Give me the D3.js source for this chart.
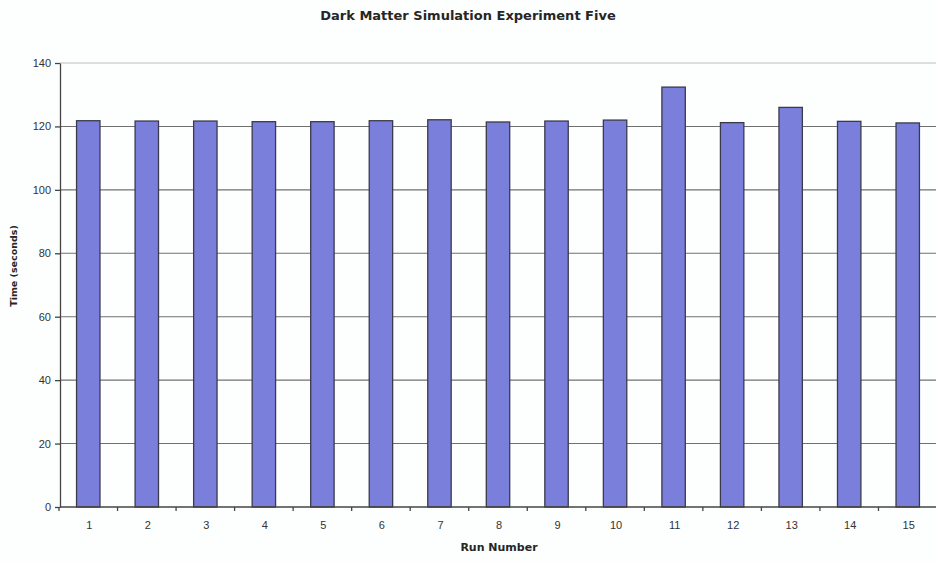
<!DOCTYPE html>
<html>
<head>
<meta charset="utf-8">
<script src="https://cdn.jsdelivr.net/npm/d3@7"></script>
<style>
body { margin: 0; background: #fdfefe; }
svg { display: block; font-family: "Liberation Sans", Arial, sans-serif; }
.grid line { stroke: #707070; stroke-width: 1.1; }
.axis path, .axis line { stroke: #444; stroke-width: 1.3; }
.axis text { fill: #333; font-size: 11px; }
.label { font-family: "DejaVu Sans", sans-serif; font-weight: bold; fill: #262626; }
</style>
</head>
<body>
<div id="plot"></div>
<script>
// run numbers and times
var runs = ["1","2","3","4","5","6","7","8","9","10","11","12","13","14","15"];
var times = [121.8,121.7,121.7,121.5,121.5,121.8,122.1,121.4,121.7,122.0,132.4,121.2,126.0,121.6,121.1];
var yTicks = [0,20,40,60,80,100,120,140];

var width = 936, height = 563;
var margin = {top: 63, right: -2, bottom: 56, left: 60};

var svg = d3.select('#plot')
  .append('svg')
  .attr('width', width)
  .attr('height', height);

var x = d3.scaleBand()
  .domain(runs)
  .range([margin.left, width - margin.right])
  .paddingInner(0.6)
  .paddingOuter(0.3);

var y = d3.scaleLinear()
  .domain([0, 140])
  .range([height - margin.bottom, margin.top]);

// horizontal gridlines
svg.append('g')
  .attr('class', 'grid')
  .selectAll('line')
  .data(yTicks.filter(function(d){ return d > 0; }))
  .enter().append('line')
    .attr('x1', margin.left)
    .attr('x2', width)
    .attr('y1', function(d){ return y(d); })
    .attr('y2', function(d){ return y(d); })
    .style('stroke', function(d){ return d == 140 ? '#bdbdbd' : null; });

// bars
svg.selectAll('.bar')
  .data(times)
  .enter().append('rect')
    .attr('class', 'bar')
    .attr('x', function(d, i){ return x(runs[i]) - 1; })
    .attr('width', x.bandwidth())
    .attr('y', function(d){ return y(d); })
    .attr('height', function(d){ return y(0) - y(d); })
    .style('fill', '#7b7fdc')
    .style('stroke', '#3a3a4a')
    .style('stroke-width', 1.3);

// x axis: ticks sit between categories
var xAxis = d3.axisBottom(x).tickSize(0).tickPadding(14);
var gx = svg.append('g')
  .attr('class', 'x axis')
  .attr('transform', 'translate(0,' + y(0) + ')')
  .call(xAxis);
gx.select('.domain').attr('d', 'M' + margin.left + ',0H' + width);

var step = x.step();
gx.selectAll('.sep')
  .data(runs)
  .enter().append('line')
    .attr('class', 'sep')
    .attr('x1', function(d){ return x(d) - step * 0.3 - 1; })
    .attr('x2', function(d){ return x(d) - step * 0.3 - 1; })
    .attr('y1', 0)
    .attr('y2', 4);

var yAxis = d3.axisLeft(y)
  .tickValues(yTicks)
  .tickSize(5)
  .tickSizeOuter(0)
  .tickPadding(4);

svg.append('g')
  .attr('class', 'y axis')
  .attr('transform', 'translate(' + margin.left + ',0)')
  .call(yAxis);

svg.append('text')
  .attr('class', 'label')
  .attr('x', 468)
  .attr('y', 20)
  .attr('text-anchor', 'middle')
  .style('font-size', '13px')
  .text('Dark Matter Simulation Experiment Five');

svg.append('text')
  .attr('class', 'label')
  .attr('transform', 'translate(17,' + 266 + ') rotate(-90)')
  .attr('text-anchor', 'middle')
  .style('font-size', '9.5px')
  .text('Time (seconds)');

svg.append('text')
  .attr('class', 'label')
  .attr('x', 499)
  .attr('y', 551)
  .attr('text-anchor', 'middle')
  .style('font-size', '11px')
  .text('Run Number');
</script>
</body>
</html>
